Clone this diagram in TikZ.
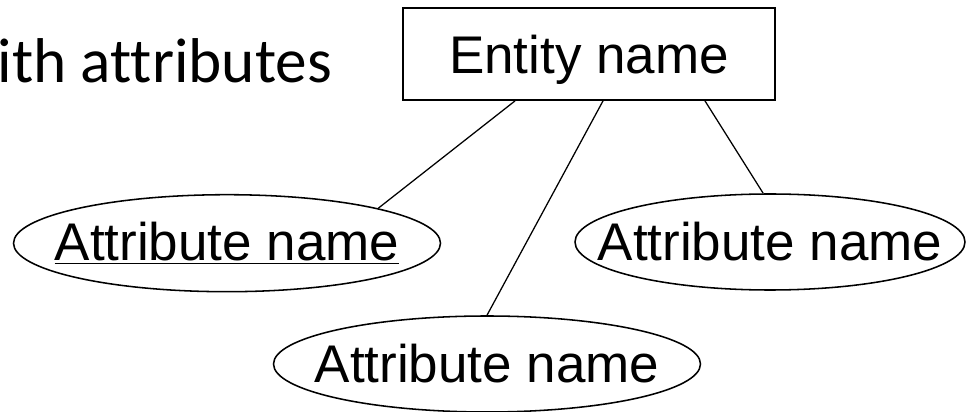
\documentclass[tikz,border=0pt]{standalone}
\usepackage{fontspec}
\setmainfont{Liberation Sans}
\newfontfamily\slidefont[Ligatures=NoCommon]{Carlito}
\usetikzlibrary{shapes.geometric}

\tikzset{
  entitybox/.style={draw, line width=1.3pt, inner sep=0pt, minimum width=9.3cm, minimum height=2.3cm,
    text depth=0pt, font=\fontsize{37.7}{45}\selectfont},
  attrib/.style={draw, ellipse, line width=1.1pt, inner sep=0pt, minimum height=2.4cm,
    font=\fontsize{37.7}{45}\selectfont},
  link/.style={line width=0.9pt}
}
% text of zero width, so the ellipse keeps its own size
\newcommand{\attrname}[1]{\makebox[0pt]{#1}}

\begin{document}
\begin{tikzpicture}
\useasboundingbox (0,0) rectangle (24.175,10.3);

\node[anchor=base east, font=\slidefont\fontsize{45}{54}\selectfont] (title) at (8.42,8.225) {ith attributes};

\node[entitybox] (entity) at (14.725,8.95) {Entity name};

\node[attrib, minimum width=10.675cm, minimum height=2.425cm] (keyattr) at (5.675,4.22) {\attrname{\underline{Attribute name}}};
\node[attrib, minimum width=10.675cm] (lowattr) at (12.175,1.2) {\attrname{Attribute name}};
\node[attrib, minimum width=9.75cm] (rightattr) at (19.25,4.25) {\attrname{Attribute name}};

\draw[link] ([xshift=-1.85cm]entity.south) -- (keyattr.13);
\draw[link] ([xshift=0.35cm]entity.south) -- (lowattr.north);
\draw[link] ([xshift=2.9cm]entity.south) -- (rightattr.98);
\end{tikzpicture}
\end{document}
